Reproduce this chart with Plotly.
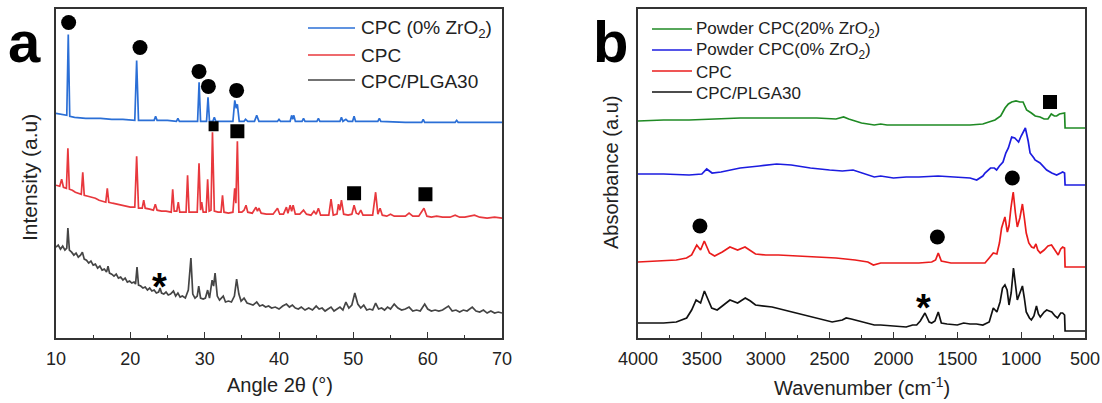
import plotly.graph_objects as go

# ---------------- Panel a: XRD (Angle 2theta, arbitrary intensity) ----------------
xrd_blue = [(10.0,225),(10.8,224),(11.45,223),(11.65,304),(11.85,222),(12.5,221),(14,220),(16,220),(17.5,219),(19,219),
            (20.6,218),(20.85,278),(21.1,218),(22.5,218),(23.2,218),(23.4,222),(23.6,218),(25,218),(26.2,217),(26.4,220),
            (26.6,217),(28,217),(29.05,217),(29.25,256),(29.45,217),(30.25,217),(30.45,241),(30.65,217),(31.1,217),(31.3,221),
            (31.5,217),(33.8,217),(34.05,238),(34.25,230),(34.4,234),(34.65,217),(35.3,217),(35.5,219),(35.8,217),(36.7,217),
            (37.0,223),(37.3,217),(39.8,217),(40.0,219),(40.2,217),(41.5,217),(41.7,223),(41.85,219),(42.0,223),(42.2,217),
            (43.1,217),(43.3,220),(43.5,217),(45.1,217),(45.3,220),(45.5,217),(48.2,217),(48.4,221),(48.6,217),(49.0,219),
            (49.3,217),(49.9,217),(50.1,222),(50.3,217),(53.3,217),(53.5,220),(53.7,217),(57,216),(59.2,216),(59.4,219),
            (59.6,216),(63.7,216),(63.9,218),(64.1,216),(70,216)]

xrd_red = [(10.0,153),(10.5,152),(10.76,159),(11.0,151),(11.4,150),(11.6,190),(11.8,149),(12.2,148),(12.6,146),(13.0,145),
           (13.4,144),(13.6,166),(13.8,143),(14.3,142),(14.8,141),(15.3,140),(15.8,138),(16.3,137),(16.7,136),(16.9,150),
           (17.1,136),(17.6,135),(18.2,134),(18.8,133),(19.4,132),(20.0,131),(20.6,131),(20.85,182),(21.1,130),(21.6,130),
           (21.8,138),(22.0,130),(22.6,129),(23.1,128),(23.36,134),(23.6,128),(24.2,127),(24.8,127),(25.5,126),(25.7,149),
           (25.9,127),(26.25,127),(26.45,136),(26.65,126),(27.1,126),(27.5,126),(27.7,163),(27.9,126),(28.5,126),(29.0,126),
           (29.24,175),(29.45,128),(29.6,136),(29.8,126),(30.2,126),(30.4,159),(30.6,127),(30.85,128),(31.05,206),(31.3,127),
           (31.8,126),(32.2,126),(32.4,143),(32.6,126),(33.2,125),(33.8,126),(34.04,150),(34.2,135),(34.4,197),(34.6,126),
           (35.0,126),(35.3,128),(35.56,133),(35.8,126),(36.4,125),(36.9,131),(37.1,127),(37.3,130),(37.6,125),(38.3,124),
           (39.2,124),(39.8,130),(40.1,124),(40.6,124),(41.0,131),(41.2,125),(41.5,133),(41.7,127),(41.9,133),(42.2,124),
           (42.8,124),(43.3,128),(43.7,124),(44.3,123),(44.7,127),(45.0,124),(45.3,130),(45.6,123),(46.2,123),(46.7,123),
           (47.0,139),(47.3,123),(47.8,124),(48.0,134),(48.2,128),(48.4,138),(48.7,124),(49.3,123),(49.8,124),(50.1,133),
           (50.4,125),(50.7,124),(51.0,128),(51.3,123),(52.0,123),(52.6,123),(53.0,146),(53.3,124),(53.6,130),(53.9,123),
           (54.5,122),(55.0,124),(55.5,122),(56.3,122),(57.0,122),(57.5,125),(58.0,122),(58.8,122),(59.5,130),(59.9,122),
           (60.5,121),(61.2,122),(62.0,121),(63.0,121),(63.7,123),(64.3,121),(65.0,121),(66.3,123),(67.0,121),(68.0,120),
           (69.0,121),(70.0,120)]

xrd_gray = [(10.0,91),(10.3,93),(10.6,89),(10.9,92),(11.2,88),(11.45,90),(11.6,110),(11.8,88),(12.1,86),(12.4,83),
            (12.7,85),(13.0,81),(13.3,83),(13.55,86),(13.8,79),(14.1,78),(14.4,75),(14.7,77),(15.0,73),(15.3,74),
            (15.6,70),(15.9,72),(16.2,68),(16.5,69),(16.8,66),(17.0,72),(17.2,65),(17.5,64),(17.8,62),(18.1,64),
            (18.4,60),(18.7,61),(19.0,58),(19.3,60),(19.6,56),(19.9,57),(20.2,55),(20.5,56),(20.7,54),(20.9,71),
            (21.1,53),(21.4,52),(21.7,50),(22.0,51),(22.3,48),(22.6,50),(22.9,47),(23.2,48),(23.5,45),(23.8,46),
            (24.0,50),(24.2,45),(24.5,44),(24.8,46),(25.1,43),(25.4,44),(25.8,47),(26.1,42),(26.4,45),(26.7,41),
            (27.0,42),(27.4,40),(27.8,48),(28.15,80),(28.4,44),(28.7,40),(29.0,42),(29.2,52),(29.45,40),(29.8,39),
            (30.1,40),(30.4,48),(30.65,40),(31.0,58),(31.2,52),(31.4,65),(31.7,42),(32.0,38),(32.5,42),(32.8,36),
            (33.2,37),(33.6,36),(34.0,42),(34.3,59),(34.6,44),(34.9,37),(35.3,40),(35.7,35),(36.1,34),(36.5,33),
            (37.0,36),(37.4,32),(37.8,33),(38.2,31),(38.6,32),(39.0,30),(39.5,31),(40.0,29),(40.5,32),(41.0,34),
            (41.4,31),(41.8,33),(42.2,30),(42.6,29),(43.0,31),(43.5,28),(44.0,30),(44.5,28),(45.0,32),(45.4,29),
            (45.8,30),(46.2,27),(46.6,29),(47.0,31),(47.4,27),(47.8,29),(48.2,31),(48.6,28),(49.0,36),(49.4,30),
            (49.8,33),(50.2,45),(50.6,34),(51.0,30),(51.4,33),(51.8,28),(52.2,29),(52.6,28),(53.0,35),(53.4,29),
            (53.8,30),(54.2,28),(54.6,31),(55.0,29),(55.5,34),(56.0,30),(56.5,28),(57.0,29),(57.5,31),(58.0,27),
            (58.5,28),(59.0,27),(59.6,34),(60.0,29),(60.5,27),(61.0,28),(61.5,27),(62.0,28),(62.8,32),(63.3,27),
            (63.8,28),(64.3,26),(64.8,28),(65.3,27),(66.0,31),(66.5,27),(67.0,26),(67.5,28),(68.0,25),(68.5,27),
            (69.0,25),(69.5,26),(70.0,25)]

xrd_circles = [(11.7,316),(21.3,291),(29.24,267),(30.5,252),(34.3,248)]
xrd_squares = [(34.4,207),(50.1,145),(59.7,144)]
xrd_small_squares = [(31.2,212)]
xrd_stars = [(23.9,59)]

# ---------------- Panel b: FTIR (wavenumber, arbitrary absorbance) ----------------
ftir_green = [(4000,217),(3800,218),(3600,218),(3400,219),(3200,220),(3000,220),(2800,220),(2600,220),(2450,219),(2390,221),
              (2350,219),(2250,215),(2150,213),(2100,214),(2050,213),(2000,213),(1800,213),(1600,213),(1400,213),(1300,214),
              (1244,216),(1205,218),(1160,222),(1126,230),(1100,234),(1074,236),(1040,237),(1010,236),(985,236),(957,228),
              (920,225),(890,222),(852,221),(820,219),(790,219),(764,224),(740,222),(722,222),(700,224),(675,225),
              (660,225),(656,210),(600,210),(500,210)]

ftir_blue = [(4000,164),(3800,164),(3600,163),(3500,164),(3462,169),(3420,165),(3350,166),(3200,170),(3050,172),(2914,174),
             (2800,173),(2650,170),(2500,168),(2400,167),(2316,168),(2250,165),(2150,161),(2100,162),(2000,160),(1900,161),
             (1800,161),(1650,162),(1500,161),(1400,160),(1348,158),(1300,162),(1283,165),(1240,170),(1210,170),(1192,168),
             (1170,172),(1142,176),(1120,185),(1100,190),(1074,201),(1050,200),(1035,198),(1020,196),(1000,202),(967,210),
             (945,197),(930,185),(900,180),(891,178),(852,175),(800,168),(760,165),(722,163),(690,165),(675,166),
             (660,165),(656,153),(600,153),(500,153)]

ftir_red = [(4000,76),(3800,77),(3700,78),(3620,80),(3580,83),(3540,93),(3510,88),(3481,97),(3440,85),(3400,82),
            (3340,86),(3280,91),(3220,88),(3162,91),(3080,84),(3000,83),(2900,83),(2750,82),(2600,81),(2450,80),
            (2300,78),(2200,76),(2157,73),(2100,75),(2000,75),(1900,75),(1800,75),(1700,76),(1670,78),(1649,85),
            (1625,77),(1550,75),(1450,75),(1350,75),(1283,75),(1250,80),(1218,85),(1190,84),(1170,95),(1153,110),
            (1127,121),(1108,106),(1095,112),(1080,130),(1062,146),(1045,125),(1030,111),(1010,120),(990,134),(975,120),
            (960,105),(940,95),(918,91),(900,90),(884,94),(870,88),(850,85),(820,88),(790,92),(762,93),
            (735,88),(710,83),(690,89),(675,91),(660,90),(656,71),(600,71),(500,71)]

ftir_black = [(4000,15),(3800,15),(3700,16),(3619,20),(3580,28),(3545,38),(3510,35),(3480,47),(3450,38),(3423,30),
              (3380,28),(3330,33),(3280,38),(3220,35),(3160,40),(3120,37),(3080,33),(2950,31),(2800,26),(2700,23),
              (2600,20),(2480,16),(2400,18),(2370,20),(2330,19),(2250,16),(2150,13),(2100,13),(2000,12),(1950,12),
              (1900,11),(1850,13),(1818,13),(1790,17),(1753,25),(1720,16),(1700,15),(1675,17),(1649,26),(1625,15),
              (1580,14),(1500,13),(1450,15),(1400,14),(1350,14),(1300,13),(1250,16),(1218,30),(1190,26),(1165,36),
              (1146,50),(1127,53),(1110,48),(1095,33),(1078,45),(1060,70),(1045,55),(1030,38),(1010,45),(990,52),
              (975,40),(960,26),(935,20),(920,18),(900,22),(880,32),(865,24),(850,21),(820,26),(800,28),
              (780,27),(760,26),(735,22),(715,20),(690,25),(675,25),(660,23),(656,7),(600,7),(500,7)]

ftir_circles = [(1069,160),(3515,112),(1656,101)]
ftir_squares = [(774,236)]
ftir_stars = [(1766,38)]

xrd_labels = ["CPC (0% ZrO<sub>2</sub>)", "CPC", "CPC/PLGA30"]
ftir_labels = ["Powder CPC(20% ZrO<sub>2</sub>)", "Powder CPC(0% ZrO<sub>2</sub>)", "CPC", "CPC/PLGA30"]

XRD_COLORS = ["#2b6fd6", "#e8383d", "#454545"]
FTIR_COLORS = ["#1f8a24", "#1c1ce0", "#ea1c1c", "#111111"]

FONT = "Liberation Sans, Arial, sans-serif"
W, H = 1102, 403


def xs(p):
    return [a for a, _ in p]


def ys(p):
    return [b for _, b in p]


fig = go.Figure()

for series, col in zip([xrd_blue, xrd_red, xrd_gray], XRD_COLORS):
    fig.add_trace(go.Scatter(x=xs(series), y=ys(series), mode="lines",
                             line=dict(color=col, width=1.7), xaxis="x", yaxis="y",
                             showlegend=False, hoverinfo="skip"))

for series, col in zip([ftir_green, ftir_blue, ftir_red, ftir_black], FTIR_COLORS):
    fig.add_trace(go.Scatter(x=xs(series), y=ys(series), mode="lines",
                             line=dict(color=col, width=1.7), xaxis="x2", yaxis="y2",
                             showlegend=False, hoverinfo="skip"))

# symbol markers
for pts, sym, size, ax, ay in [(xrd_circles, "circle", 15, "x", "y"),
                               (xrd_squares, "square", 14, "x", "y"),
                               (xrd_small_squares, "square", 10, "x", "y"),
                               (ftir_circles, "circle", 15, "x2", "y2"),
                               (ftir_squares, "square", 14, "x2", "y2")]:
    fig.add_trace(go.Scatter(x=xs(pts), y=ys(pts), mode="markers",
                             marker=dict(symbol=sym, size=size, color="black", line=dict(width=0)),
                             xaxis=ax, yaxis=ay, showlegend=False, hoverinfo="skip"))

annotations = []
for pts, ax, ay in [(xrd_stars, "x", "y"), (ftir_stars, "x2", "y2")]:
    for (a, b) in pts:
        annotations.append(dict(x=a, y=b, xref=ax, yref=ay, text="<b>*</b>", showarrow=False,
                                font=dict(family="Liberation Sans", size=38, color="black"),
                                yshift=-8))

shapes = []


def px_x(p):
    return p / W


def px_y(p):
    return 1 - p / H


# manual legends
for i, (lab, col) in enumerate(zip(xrd_labels, XRD_COLORS)):
    yy = [28, 55, 80][i]
    shapes.append(dict(type="line", xref="paper", yref="paper", x0=px_x(308), x1=px_x(355),
                       y0=px_y(yy), y1=px_y(yy), line=dict(color=col, width=1.7)))
    annotations.append(dict(x=px_x(359), y=px_y(yy + 1), xref="paper", yref="paper", text=lab,
                            xanchor="left", yanchor="middle", showarrow=False,
                            font=dict(family=FONT, size=19, color="#222")))

for i, (lab, col) in enumerate(zip(ftir_labels, FTIR_COLORS)):
    yy = [29, 50, 71, 92][i]
    shapes.append(dict(type="line", xref="paper", yref="paper", x0=px_x(652), x1=px_x(692),
                       y0=px_y(yy), y1=px_y(yy), line=dict(color=col, width=1.7)))
    annotations.append(dict(x=px_x(694), y=px_y(yy + 1), xref="paper", yref="paper", text=lab,
                            xanchor="left", yanchor="middle", showarrow=False,
                            font=dict(family=FONT, size=17, color="#222")))

# panel letters
LETTER_FONT = "Liberation Sans Narrow, Arial Narrow, Liberation Sans, sans-serif"
annotations.append(dict(x=px_x(24), y=px_y(42), xref="paper", yref="paper", text="<b>a</b>",
                        showarrow=False, xanchor="center", yanchor="middle",
                        font=dict(family=LETTER_FONT, size=58, color="black")))
annotations.append(dict(x=px_x(610), y=px_y(42), xref="paper", yref="paper", text="<b>b</b>",
                        showarrow=False, xanchor="center", yanchor="middle",
                        font=dict(family=LETTER_FONT, size=58, color="black")))

# axis titles
annotations.append(dict(x=px_x(30), y=px_y(178), xref="paper", yref="paper", text="Intensity (a.u)",
                        textangle=-90, showarrow=False, xanchor="center", yanchor="middle",
                        font=dict(family=FONT, size=21, color="#222")))
annotations.append(dict(x=px_x(611), y=px_y(173), xref="paper", yref="paper", text="Absorbance (a.u)",
                        textangle=-90, showarrow=False, xanchor="center", yanchor="middle",
                        font=dict(family=FONT, size=20, color="#222")))
annotations.append(dict(x=px_x(280), y=px_y(385), xref="paper", yref="paper", text="Angle 2θ (°)",
                        showarrow=False, xanchor="center", yanchor="middle",
                        font=dict(family=FONT, size=20, color="#222")))
annotations.append(dict(x=px_x(862), y=px_y(386), xref="paper", yref="paper", text="Wavenumber (cm<sup>-1</sup>)",
                        showarrow=False, xanchor="center", yanchor="middle",
                        font=dict(family=FONT, size=20, color="#222")))

AX_COL = "#333333"
ydom = [1 - 338 / H, 1 - 8.5 / H]
common_x = dict(showline=True, linecolor=AX_COL, linewidth=1.5, mirror=True,
                ticks="inside", ticklen=6, tickwidth=1.3, tickcolor=AX_COL,
                showgrid=False, zeroline=False, ticklabelstandoff=4, automargin=False,
                tickfont=dict(family=FONT, size=18, color="#222"))
common_y = dict(showline=True, linecolor=AX_COL, linewidth=1.5, mirror=True, automargin=False,
                showticklabels=False, ticks="", showgrid=False, zeroline=False, domain=ydom)

fig.update_layout(
    width=W, height=H, margin=dict(l=0, r=0, t=0, b=0, pad=0, autoexpand=False),
    paper_bgcolor="white", plot_bgcolor="white",
    xaxis=dict(domain=[56 / W, 502 / W], range=[10, 70], dtick=10, tick0=10, anchor="y",
               minor=dict(dtick=5, ticklen=3, ticks="inside", tickcolor=AX_COL, tickwidth=1.2),
               **common_x),
    yaxis=dict(range=[0, 330], anchor="x", **common_y),
    xaxis2=dict(domain=[638 / W, 1085 / W], range=[4000, 500], dtick=500, tick0=500, anchor="y2",
                minor=dict(dtick=250, ticklen=3, ticks="inside", tickcolor=AX_COL, tickwidth=1.2),
                **common_x),
    yaxis2=dict(range=[0, 329.5], anchor="x2", **common_y),
    annotations=annotations, shapes=shapes,
)

fig.write_html("out.html")
